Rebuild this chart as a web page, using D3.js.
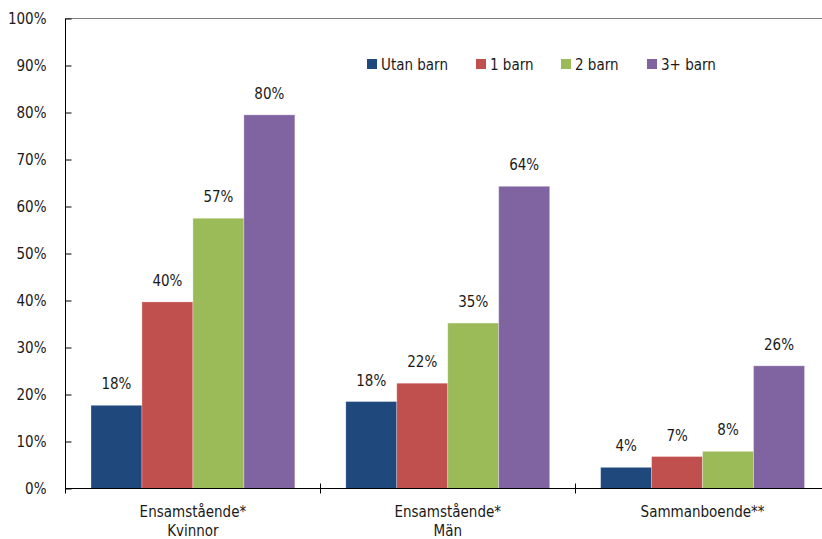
<!DOCTYPE html>
<html>
<head>
<meta charset="utf-8">
<script src="https://cdn.jsdelivr.net/npm/d3@7"></script>
<style>
  html, body { margin: 0; padding: 0; background: #fff; }
  svg text { font-family: "Liberation Sans Narrow", "DejaVu Sans Condensed", sans-serif; fill: #1a1a1a; }
</style>
</head>
<body>
<svg id="chart" width="822" height="539"></svg>
<script>
const categories = [["Ensamstående*", "Kvinnor"], ["Ensamstående*", "Män"], ["Sammanboende**"]];
const seriesNames = ["Utan barn", "1 barn", "2 barn", "3+ barn"];
const seriesColors = ["#1F497D", "#C0504D", "#9BBB59", "#8064A2"];
const utanBarn = [17.7, 18.5, 4.5];
const ettBarn = [39.7, 22.4, 6.8];
const tvaBarn = [57.5, 35.2, 7.9];
const treBarn = [79.5, 64.3, 26.1];
const valueLabels = [["18%", "40%", "57%", "80%"], ["18%", "22%", "35%", "64%"], ["4%", "7%", "8%", "26%"]];
const yTicks = [0, 10, 20, 30, 40, 50, 60, 70, 80, 90, 100];

const seriesValues = [utanBarn, ettBarn, tvaBarn, treBarn];
const svg = d3.select("#chart");
const mLeft = 65.5, mRight = 830, mTop = 18.5, mBottom = 488.5;
const FS = 15;

const x0 = d3.scaleBand().domain(categories.map((d, i) => i)).range([mLeft, mRight]).padding(0);
const x1 = d3.scaleBand().domain(seriesNames).range([0, x0.bandwidth()]).paddingInner(0).paddingOuter(0.5);
const y = d3.scaleLinear().domain([0, 100]).range([mBottom, mTop]);

// top border line
svg.append("line").attr("x1", mLeft).attr("x2", 822).attr("y1", mTop).attr("y2", mTop)
  .attr("stroke", "#808080").attr("stroke-width", 1);

// bars
categories.forEach((c, ci) => {
  const g = svg.append("g").attr("transform", `translate(${x0(ci)},0)`);
  seriesNames.forEach((s, si) => {
    const v = seriesValues[si][ci];
    g.append("rect")
      .attr("x", x1(s)).attr("width", x1.bandwidth())
      .attr("y", y(v)).attr("height", y(0) - y(v))
      .attr("fill", seriesColors[si])
      .attr("stroke", "rgba(255,255,255,0.35)").attr("stroke-width", 0.8);
    g.append("text")
      .attr("x", x1(s) + x1.bandwidth() / 2)
      .attr("y", y(v) - 16)
      .attr("text-anchor", "middle")
      .attr("font-size", FS)
      .text(valueLabels[ci][si]);
  });
});

// y axis
const yAxis = d3.axisLeft(y).tickValues(yTicks).tickSize(-6).tickPadding(19).tickFormat(d => d + "%");
const yg = svg.append("g").attr("transform", `translate(${mLeft},0)`).call(yAxis);
yg.select(".domain").remove();
yg.selectAll(".tick line").attr("stroke", "#000");
yg.selectAll(".tick text").attr("font-size", FS).attr("fill", "#1a1a1a")
  .style("font-family", '"Liberation Sans Narrow", "DejaVu Sans Condensed", sans-serif');
svg.append("line").attr("x1", mLeft).attr("x2", mLeft).attr("y1", mTop).attr("y2", mBottom + 5)
  .attr("stroke", "#000").attr("stroke-width", 1);

// x axis
svg.append("line").attr("x1", mLeft).attr("x2", 822).attr("y1", mBottom).attr("y2", mBottom)
  .attr("stroke", "#000").attr("stroke-width", 1.2);
categories.forEach((c, ci) => {
  if (ci > 0) {
    svg.append("line").attr("x1", Math.round(x0(ci)) + 0.5).attr("x2", Math.round(x0(ci)) + 0.5)
      .attr("y1", mBottom - 5).attr("y2", mBottom + 5).attr("stroke", "#000");
  }
  const cx = x0(ci) + x0.bandwidth() / 2;
  c.forEach((line, li) => {
    svg.append("text").attr("x", cx).attr("y", 517 + li * 19)
      .attr("text-anchor", "middle").attr("font-size", FS).text(line);
  });
});

// legend
const legendX = [367, 476, 561, 647];
seriesNames.forEach((s, si) => {
  svg.append("rect").attr("x", legendX[si]).attr("y", 59).attr("width", 10).attr("height", 10)
    .attr("fill", seriesColors[si]);
  svg.append("text").attr("x", legendX[si] + 14).attr("y", 69.5).attr("font-size", FS).text(s);
});
</script>
</body>
</html>
